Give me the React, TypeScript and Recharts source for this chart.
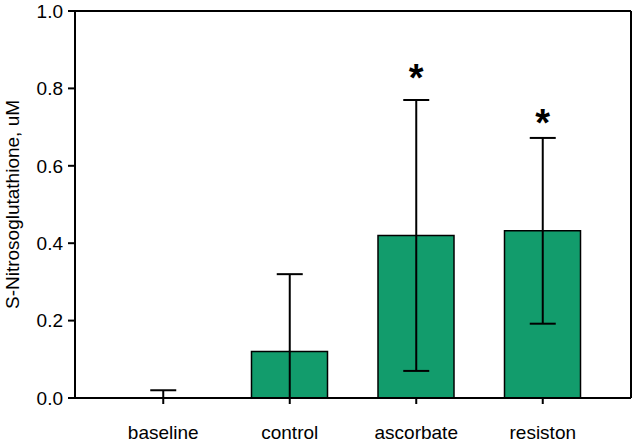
import React from 'react';
import { ComposedChart, Bar, Line, XAxis, YAxis, ErrorBar, ReferenceDot } from 'recharts';

const groups = ['baseline', 'control', 'ascorbate', 'resiston'];
const means = [0, 0.12, 0.42, 0.432];
// visible error extents below / above the mean
const errLow = [0, 0.12, 0.35, 0.24];
const errHigh = [0.02, 0.2, 0.35, 0.24];
// height at which the significance star sits (null = no star)
const starLevels = [null, null, 0.843, 0.727];
const yTicks = [0, 0.2, 0.4, 0.6, 0.8, 1.0];

const FONT = '"Liberation Sans", Arial, sans-serif';

const data = groups.map((g, i) => ({ name: g, value: means[i], err: [errLow[i], errHigh[i]] }));

const Star = (props: any) => {
  const { cx, cy } = props;
  const fs = 38;
  return (
    <text x={cx} y={cy + fs * 0.5} textAnchor="middle" fontFamily={FONT} fontWeight="bold" fontSize={fs} fill="#000">
      *
    </text>
  );
};

const YLabel = (props: any) => {
  const { viewBox } = props;
  const x = viewBox.x + 12;
  const y = viewBox.y + viewBox.height / 2;
  return (
    <text x={x} y={y} transform={`rotate(-90, ${x}, ${y})`} textAnchor="middle" dominantBaseline="central" fontFamily={FONT} fontSize={19} fill="#000">
      S-Nitrosoglutathione, uM
    </text>
  );
};

export default function App() {
  const axisStyle = { stroke: '#000', strokeWidth: 2 };
  return (
    <div style={{ position: 'absolute', left: 0, top: 0 }}>
      <ComposedChart width={632} height={443} data={data} margin={{ top: 10, right: 0, bottom: 0, left: 0 }}>
        <XAxis
          dataKey="name"
          height={45}
          padding={{ left: 25, right: 25 }}
          axisLine={axisStyle}
          tickLine={axisStyle}
          tickSize={6}
          tickMargin={22}
          tick={{ fill: '#000', fontSize: 19, fontFamily: FONT }}
        />
        <XAxis xAxisId="top" dataKey="name" orientation="top" height={1} tick={false} tickLine={false} axisLine={axisStyle} padding={{ left: 25, right: 25 }} />
        <YAxis
          width={75}
          domain={[0, 1]}
          ticks={yTicks}
          allowDataOverflow
          tickFormatter={(v: number) => v.toFixed(1)}
          axisLine={axisStyle}
          tickLine={axisStyle}
          tickSize={7}
          tickMargin={5}
          tick={{ fill: '#000', fontSize: 19, fontFamily: FONT }}
          label={{ content: <YLabel /> }}
        />
        <YAxis yAxisId="right" orientation="right" width={1} domain={[0, 1]} tick={false} tickLine={false} axisLine={axisStyle} />
        <Bar dataKey="value" barSize={76} fill="#129c6c" stroke="#000" strokeWidth={1.5} isAnimationActive={false} />
        <Line dataKey="value" stroke="none" dot={false} activeDot={false} isAnimationActive={false}>
          <ErrorBar dataKey="err" direction="y" width={13} stroke="#000" strokeWidth={2} isAnimationActive={false} />
        </Line>
        {groups.map((g, i) =>
          starLevels[i] == null ? null : (
            <ReferenceDot key={g} x={g} y={starLevels[i] as number} r={0} shape={<Star />} ifOverflow="visible" />
          )
        )}
      </ComposedChart>
    </div>
  );
}
